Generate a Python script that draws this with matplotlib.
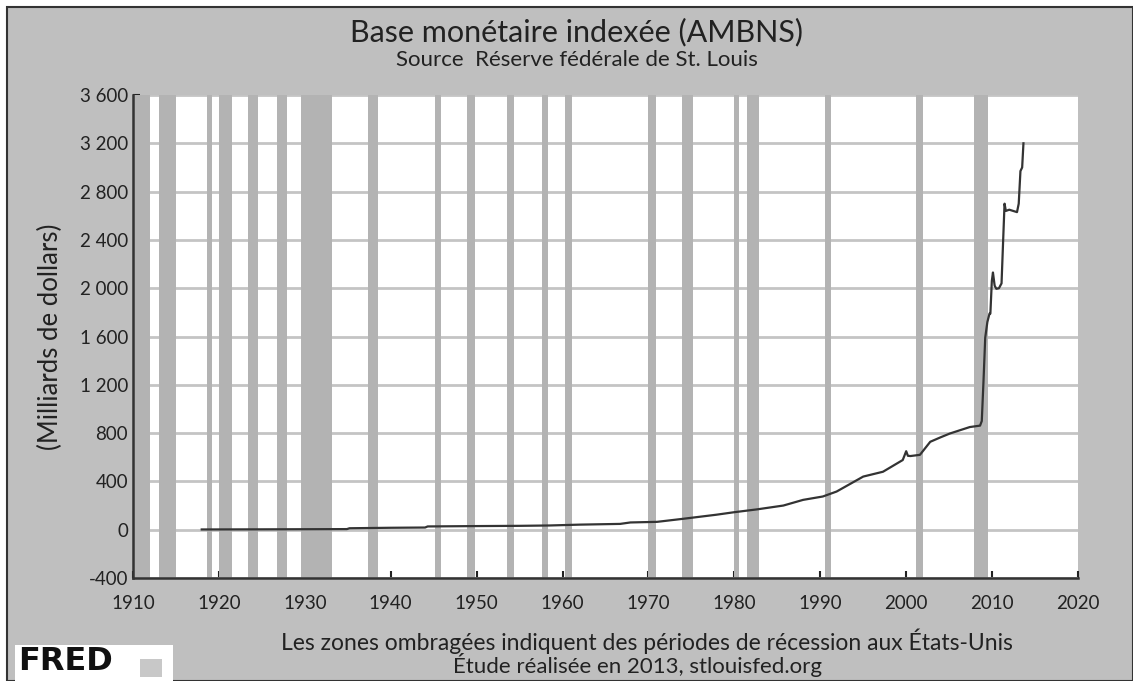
import matplotlib.pyplot as plt
import matplotlib.patches as patches
from matplotlib.ticker import FuncFormatter

# recessions (NBER, decimal years)
rec_start = [1910.0, 1913.0, 1918.6, 1920.0, 1923.4, 1926.8, 1929.6, 1937.4, 1945.1, 1948.9,
             1953.5, 1957.6, 1960.3, 1969.9, 1973.9, 1980.0, 1981.5, 1990.5, 2001.2, 2007.9]
rec_end = [1912.0, 1914.95, 1919.2, 1921.5, 1924.5, 1927.9, 1933.2, 1938.5, 1945.8, 1949.8,
           1954.4, 1958.3, 1961.1, 1970.9, 1975.2, 1980.5, 1982.9, 1991.2, 2001.9, 2009.5]

# AMBNS, billions of dollars
years = [1918.0, 1925.0, 1930.0, 1934.9, 1935.2, 1940.0, 1944.0, 1944.3, 1950.0, 1955.0,
         1958.5, 1962.0, 1966.7, 1967.9, 1971.0, 1974.0, 1977.9, 1980.0, 1982.6, 1985.7,
         1988.0, 1990.3, 1991.9, 1993.5, 1995.0, 1997.3, 1999.6, 2000.0, 2000.2, 2000.5,
         2001.6, 2002.8, 2004.0, 2005.1, 2007.4, 2008.6, 2008.8, 2009.0, 2009.2, 2009.45,
         2009.7, 2009.8, 2009.97, 2010.1, 2010.3, 2010.5, 2010.8, 2011.1, 2011.3, 2011.45,
         2011.6, 2012.0, 2012.9, 2013.1, 2013.3, 2013.5, 2013.65]
values = [2, 3, 4, 5, 12, 16, 18, 27, 30, 32,
          35, 42, 48, 60, 65, 90, 124, 145, 168, 200,
          247, 275, 316, 380, 440, 480, 577, 650, 612, 610,
          620, 728, 765, 797, 850, 862, 900, 1230, 1590, 1720,
          1790, 1790, 2060, 2130, 2020, 1995, 2000, 2040, 2420, 2700,
          2640, 2650, 2630, 2700, 2970, 3000, 3200]

yticks = list(range(-400, 3601, 400))
xticks = list(range(1910, 2021, 10))

bg = '#bfbfbf'
txt = '#222222'
plt.rcParams['font.family'] = ['Lato', 'DejaVu Sans']

fig = plt.figure(figsize=(11.33, 6.81), dpi=100, facecolor='white')
# gray frame
fig.patches.append(patches.Rectangle((7/1133, 0), 1 - 7/1133, 1 - 7/681, transform=fig.transFigure,
                                     facecolor=bg, edgecolor='#333333', linewidth=1.5, zorder=-10))

ax = fig.add_axes([133/1133, 1 - 578/681, 945/1133, 483/681])
ax.set_facecolor('white')

for s, e in zip(rec_start, rec_end):
    ax.axvspan(s, e, color='#b3b3b3', linewidth=0, zorder=1)

ax.set_yticks(yticks)
ax.set_xticks(xticks)
ax.yaxis.grid(True, color='#c4c4c4', linewidth=2)
ax.set_axisbelow(True)
ax.plot(years, values, color='#333333', linewidth=1.6, zorder=3)

ax.set_xlim(1910, 2020)
ax.set_ylim(-400, 3600)
ax.yaxis.set_major_formatter(FuncFormatter(lambda v, p: f"{int(v):,}".replace(',', ' ')))
ax.tick_params(direction='in', length=5, width=1.5, labelsize=13.5, colors=txt)
ax.tick_params(axis='x', pad=12)
for side in ['top', 'right']:
    ax.spines[side].set_visible(False)
for side in ['left', 'bottom']:
    ax.spines[side].set_color('#333333')
    ax.spines[side].set_linewidth(1.8)
ax.set_ylabel('(Milliards de dollars)', fontsize=18.5, color=txt, labelpad=12)

fig.text(0.509, 1 - 32/681, 'Base monétaire indexée (AMBNS)', ha='center', va='center',
         fontsize=22, color=txt)
fig.text(0.509, 1 - 60/681, 'Source  Réserve fédérale de St. Louis', ha='center', va='center',
         fontsize=16, color=txt)
fig.text(0.571, 1 - 641/681, 'Les zones ombragées indiquent des périodes de récession aux États-Unis',
         ha='center', va='center', fontsize=16.5, color=txt)
fig.text(0.563, 1 - 665/681, 'Étude réalisée en 2013, stlouisfed.org',
         ha='center', va='center', fontsize=16, color=txt)

# FRED logo
fig.patches.append(patches.Rectangle((15/1133, 0), 158/1133, 36/681, transform=fig.transFigure,
                                     facecolor='white', edgecolor='none'))
fig.text(18/1133, 1 - 662/681, 'FRED', ha='left', va='center', fontsize=23,
         fontweight='bold', family='DejaVu Sans', color='#111111')
fig.patches.append(patches.Rectangle((140/1133, 4/681), 22/1133, 18/681, transform=fig.transFigure,
                                     facecolor='#c8c8c8', edgecolor='none'))

fig.savefig('out.png', dpi=100, facecolor=fig.get_facecolor())
